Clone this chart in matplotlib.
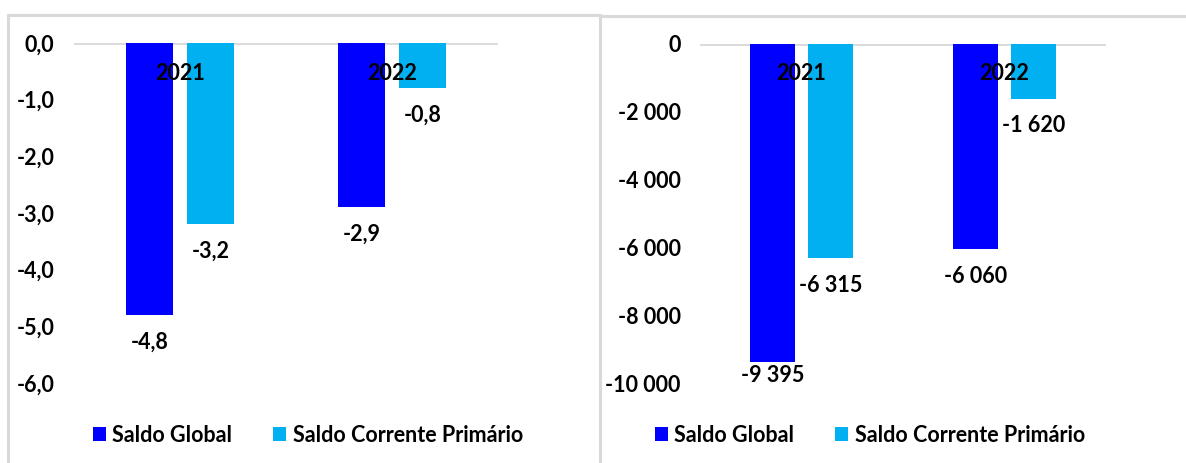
import numpy as np
import matplotlib.pyplot as plt
from matplotlib.lines import Line2D
from matplotlib.ticker import FuncFormatter

plt.rcParams['font.family'] = ['Lato', 'DejaVu Sans']
plt.rcParams['font.weight'] = 'bold'

anos = ['2021', '2022']
series = ['Saldo Global', 'Saldo Corrente Primário']
cores = ['#0000FF', '#00B0F0']

# % do PIB
pib_global = [-4.8, -2.9]
pib_corrente = [-3.2, -0.8]
# milhões
mil_global = [-9395, -6060]
mil_corrente = [-6315, -1620]

W, H = 1186, 463
FS = 15.5
fig = plt.figure(figsize=(W / 100, H / 100), dpi=100)
fig.patch.set_facecolor('white')

def px(x0, y0, x1, y1):
    # caixa em pixels (topo = 0) -> fração da figura
    return [x0 / W, 1 - y1 / H, (x1 - x0) / W, (y1 - y0) / H]

def fmt_pct(v, pos=None):
    return f'{v:.1f}'.replace('.', ',')

def fmt_mil(v, pos=None):
    s = f'{abs(v):,.0f}'.replace(',', ' ')
    return ('-' if v < 0 else '') + s

def painel(box, valores, ylim, yticks, fmt, leg_x):
    ax = fig.add_axes(px(*box))
    x = np.arange(len(anos))
    larg, desl = 0.22, 0.143
    ppx = (ylim[1] - ylim[0]) / (box[3] - box[1])   # unidades por pixel
    for k, (vals, cor, nome) in enumerate(zip(valores, cores, series)):
        xs = x + (2 * k - 1) * desl
        ax.bar(xs, vals, width=larg, color=cor, label=nome, zorder=2)
        for xi, v in zip(xs, vals):
            yl = max(v - 27 * ppx, ylim[0] + 7 * ppx)
            ax.text(xi, yl, fmt(v), ha='center', va='center',
                    fontsize=FS, fontweight='bold', color='black')
    for xi, a in zip(x, anos):
        ax.text(xi, -30 * ppx, a, ha='center', va='center',
                fontsize=FS, fontweight='bold', color='black', zorder=3)
    ax.axhline(0, color='#D9D9D9', lw=2, zorder=1)
    ax.set_xlim(-0.5, 1.5)
    ax.set_ylim(*ylim)
    ax.set_yticks(yticks)
    ax.yaxis.set_major_formatter(FuncFormatter(fmt))
    ax.tick_params(axis='y', length=0, pad=14, labelsize=FS)
    ax.set_xticks([])
    for s in ax.spines.values():
        s.set_visible(False)
    ax.legend(loc='center', bbox_to_anchor=(leg_x / W, 1 - 435 / H),
              bbox_transform=fig.transFigure, ncol=2, frameon=False,
              handlelength=0.6, handleheight=0.6, handletextpad=0.3,
              columnspacing=1.9, prop={'size': FS, 'weight': 'bold'})
    return ax

painel((74, 43, 498, 383), [pib_global, pib_corrente], (-6, 0),
       np.arange(-6, 0.1, 1), fmt_pct, 308)
painel((700, 44, 1106, 383), [mil_global, mil_corrente], (-10000, 0),
       np.arange(-10000, 1, 2000), fmt_mil, 870)

# molduras dos dois painéis
cinza = '#D9D9D9'
for (x0, y0), (x1, y1) in [((8, 15), (600, 15)), ((8, 15), (8, 463)),
                           ((600, 15), (600, 463)), ((600, 16), (1186, 16))]:
    fig.add_artist(Line2D([x0 / W, x1 / W], [1 - y0 / H, 1 - y1 / H],
                          color=cinza, lw=2.2, transform=fig.transFigure))

fig.savefig('out.png', dpi=100, facecolor='white')
